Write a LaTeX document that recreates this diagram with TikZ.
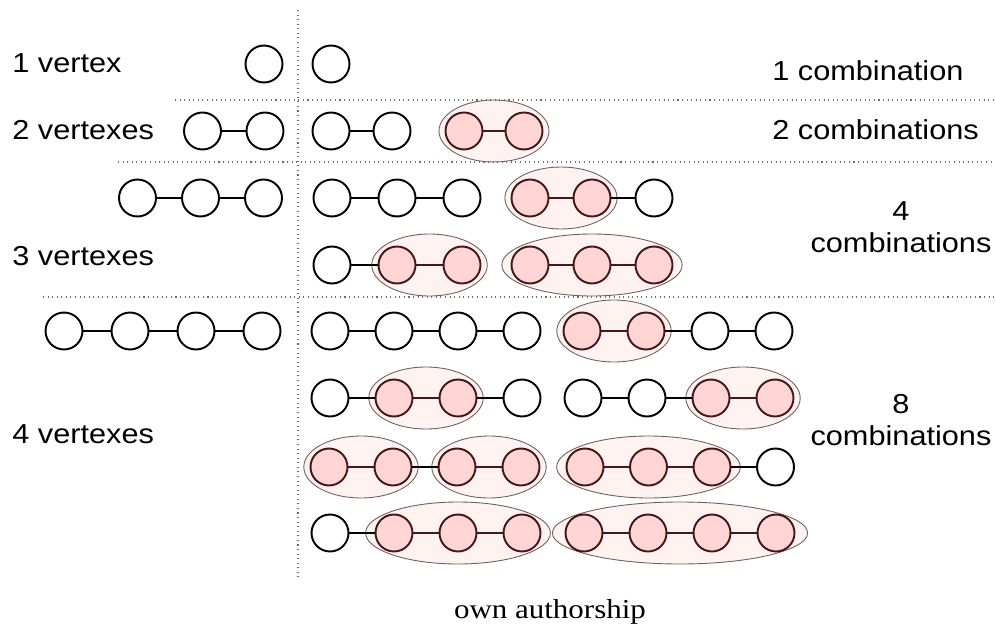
\documentclass[tikz,border=0pt]{standalone}
\usepackage{fontspec}
\setmainfont[FakeStretch=1.12]{Liberation Sans}
\newfontfamily\capfont[FakeStretch=1.13]{Liberation Serif}
\usetikzlibrary{calc,backgrounds}
\definecolor{vpink}{RGB}{255,213,213}
\definecolor{vbord}{RGB}{72,22,22}
\definecolor{gfill}{RGB}{255,243,241}
\definecolor{gbord}{RGB}{110,95,95}
\definecolor{sepgray}{RGB}{110,110,110}
\newcommand{\lblsize}{\fontsize{15.6}{18}\selectfont}
\tikzset{
  vw/.style={circle, draw=black, fill=white, line width=1.1pt, minimum size=0.74cm, inner sep=0pt},
  vr/.style={vw, draw=vbord, fill=vpink},
  edge/.style={black, line width=0.9pt},
  redge/.style={vbord, line width=0.9pt},
  grp/.style={draw=gbord, fill=gfill, line width=0.5pt},
  sep/.style={sepgray, dotted, line width=0.6pt},
  lbl/.style={font=\lblsize, inner sep=0pt},
  capt/.style={font=\capfont\lblsize, inner sep=0pt},
}
% a path of vertices: name, first x, y, spacing, kinds (w = plain, r = chosen)
\newcommand{\chain}[5]{%
  \foreach \k [count=\i, remember=\i as \j (initially 0)] in {#5} {
    \node[v\k] (#1-\i) at ({#2+(\i-1)*#4}, #3) {};
    \ifnum\i>1 \draw[edge] (#1-\j) -- (#1-\i);\fi
  }}
% a group of chosen vertices: chain name, first and last vertex
\newcommand{\grp}[3]{%
  \begin{scope}[on background layer]
    \filldraw[grp] let \p1=(#1-#2), \p2=(#1-#3) in
      ($(#1-#2)!0.5!(#1-#3)$) ellipse [x radius={0.55*(\x2-\x1)+0.44cm}, y radius=0.62cm];
  \end{scope}
  \foreach \i [remember=\i as \j (initially #2)] in {#2,...,#3}
    {\ifnum\i>#2 \draw[redge] (#1-\j) -- (#1-\i);\fi}}

\begin{document}
\begin{tikzpicture}[x=0.02cm, y=-0.02cm]
  \useasboundingbox (0,0) rectangle (995,625);
  % separators
  \draw[sep] (298,10) -- (298,580);
  \draw[sep] (175,100) -- (995,100);
  \draw[sep] (118,162) -- (995,162);
  \draw[sep] (43,297) -- (995,297);
  % the paths
  \chain{l1}{264}{64}{0}{w}
  \chain{l2}{202.5}{131}{62.5}{w,w}
  \chain{l3}{137.5}{198}{63}{w,w,w}
  \chain{l4}{64}{331}{66}{w,w,w,w}
  % their combinations
  \chain{a1}{331}{64}{0}{w}
  \chain{b1}{331}{131}{61}{w,w}
  \chain{b2}{464}{131}{60}{r,r}
  \grp{b2}{1}{2}
  \chain{c1}{332}{198}{65}{w,w,w}
  \chain{c2}{530}{198}{62}{r,r,w}
  \grp{c2}{1}{2}
  \chain{c3}{332}{265}{65}{w,r,r}
  \grp{c3}{2}{3}
  \chain{c4}{530}{265}{62}{r,r,r}
  \grp{c4}{1}{3}
  \chain{d1}{330}{331}{64}{w,w,w,w}
  \chain{d2}{582}{331}{64}{r,r,w,w}
  \grp{d2}{1}{2}
  \chain{d3}{330}{398}{64}{w,r,r,w}
  \grp{d3}{2}{3}
  \chain{d4}{583}{398}{64}{w,w,r,r}
  \grp{d4}{3}{4}
  \chain{d5}{329}{467}{64}{r,r,r,r}
  \grp{d5}{1}{2}
  \grp{d5}{3}{4}
  \chain{d6}{585}{467}{63.5}{r,r,r,w}
  \grp{d6}{1}{3}
  \chain{d7}{330}{533}{64}{w,r,r,r}
  \grp{d7}{2}{4}
  \chain{d8}{584}{533}{64}{r,r,r,r}
  \grp{d8}{1}{4}
  % labels
  \node[lbl, anchor=base west] (n1) at (12,73) {1 vertex};
  \node[lbl, anchor=base west] (n2) at (12,140) {2 vertexes};
  \node[lbl, anchor=base west] (n3) at (12,265) {3 vertexes};
  \node[lbl, anchor=base west] (n4) at (12,443) {4 vertexes};
  \node[lbl, anchor=base west] (k1) at (772,81) {1 combination};
  \node[lbl, anchor=base west] (k2) at (772,140) {2 combinations};
  \node[lbl, anchor=base] (k3) at (901,220) {4};
  \node[lbl, anchor=base] (k3b) at (901,253) {combinations};
  \node[lbl, anchor=base] (k4) at (901,413) {8};
  \node[lbl, anchor=base] (k4b) at (901,445) {combinations};
  \node[capt, anchor=base] (src) at (550,618) {own authorship};
\end{tikzpicture}
\end{document}
